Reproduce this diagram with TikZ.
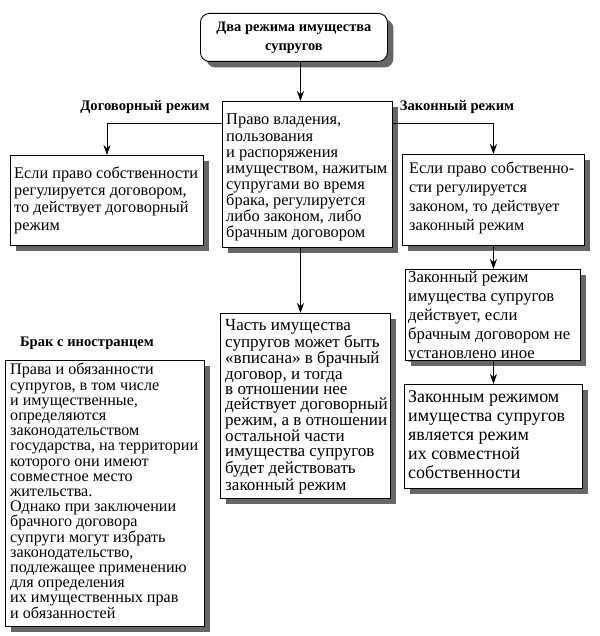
\documentclass[tikz,border=0pt]{standalone}
\usepackage{fontspec}
\setmainfont{Liberation Serif}
\usetikzlibrary{shadows,arrows.meta}
\newlength\fitw
% #1 macro receiving the font size, #2 target width (pt), #3 font switch, #4 sample line
\newcommand\fitsize[4]{%
  \settowidth\fitw{#3\fontsize{10}{10}\selectfont #4}%
  \pgfmathsetmacro#1{10*#2/\fitw}}
\begin{document}
\fitsize\fsTitle{155}{\bfseries}{Два режима имущества}%
\fitsize\fsCenter{161}{}{имуществом, нажитым}%
\fitsize\fsLeft{184}{}{Если право собственности}%
\fitsize\fsRone{165}{}{Если право собственно-}%
\fitsize\fsRtwo{162}{}{брачным договором не}%
\fitsize\fsRthree{157}{}{имущества супругов}%
\fitsize\fsMid{162}{}{режим, а в отношении}%
\fitsize\fsBl{188}{}{государства, на территории}%
\begin{tikzpicture}[x=1pt,y=-1pt,
  shadowed/.style={drop shadow={shadow xshift=6pt,shadow yshift=-6pt,fill=black!60,opacity=1}},
  box/.style={draw,line width=0.9pt,fill=white,anchor=north west,inner sep=0pt,shadowed},
  txt/.style={anchor=base west,align=left,inner sep=0pt},
  lbl/.style={font=\bfseries\fontsize{14.6}{16}\selectfont},
  arr/.style={line width=0.9pt,-{Stealth[length=10pt,width=7pt]}}]
\useasboundingbox (0,0) rectangle (599,636);

% boxes
\node[box,rounded corners=9pt,align=center,inner sep=0pt,font=\bfseries\fontsize{\fsTitle}{19}\selectfont,
  minimum width=187pt,minimum height=48pt] (title) at (200,13)
  {Два режима имущества\\супругов};
\node[box,minimum width=170pt,minimum height=146pt] (center) at (222,101) {};
\node[box,minimum width=193pt,minimum height=90pt] (left) at (10,155) {};
\node[box,minimum width=182pt,minimum height=91pt] (r1) at (402,154) {};
\node[box,minimum width=175pt,minimum height=91pt] (r2) at (405,269) {};
\node[box,minimum width=178pt,minimum height=104pt] (r3) at (404,384) {};
\node[box,minimum width=170pt,minimum height=185pt] (mid) at (220,313) {};
\node[box,minimum width=199pt,minimum height=266pt] (bl) at (5,360) {};

% texts (anchored at the baseline of their last line)
\node[txt,font=\fontsize{\fsCenter}{16}\selectfont] (centerT) at (226,237)
  {Право владения,\\пользования\\и распоряжения\\имуществом, нажитым\\супругами во время\\брака, регулируется\\либо законом, либо\\брачным договором};
\node[txt,font=\fontsize{\fsLeft}{17.3}\selectfont] (leftT) at (14,230)
  {Если право собственности\\регулируется договором,\\то действует договорный\\режим};
\node[txt,font=\fontsize{\fsRone}{19}\selectfont] (r1T) at (409,230)
  {Если право собственно-\\сти регулируется\\законом, то действует\\законный режим};
\node[txt,font=\fontsize{\fsRtwo}{18.8}\selectfont] (r2T) at (408,358)
  {Законный режим\\имущества супругов\\действует, если\\брачным договором не\\установлено иное};
\node[txt,font=\fontsize{\fsRthree}{19}\selectfont] (r3T) at (408,478)
  {Законным режимом\\имущества супругов\\является режим\\их совместной\\собственности};
\node[txt,font=\fontsize{\fsMid}{15.3}\selectfont] (midT) at (225,490)
  {Часть имущества\\супругов может быть\\«вписана» в брачный\\договор, и тогда\\в отношении нее\\действует договорный\\режим, а в отношении\\остальной части\\имущества супругов\\будет действовать\\законный режим};
\node[txt,font=\fontsize{\fsBl}{15.2}\selectfont] (blT) at (10,618)
  {Права и обязанности\\супругов, в том числе\\и имущественные,\\определяются\\законодательством\\государства, на территории\\которого они имеют\\совместное место\\жительства.\\Однако при заключении\\брачного договора\\супруги могут избрать\\законодательство,\\подлежащее применению\\для определения\\их имущественных прав\\и обязанностей};

% labels
\node[lbl] (ldog) at (145,107) {Договорный режим};
\node[lbl] (lzak) at (457,107) {Законный режим};
\node[lbl] (lbrak) at (87,343) {Брак с иностранцем};

% connectors
\draw[arr] ([xshift=6.5pt]title.south) -- ([xshift=-7pt]center.north);
\draw[arr] ([yshift=-22pt]center.north west) -| (left.north);
\draw[arr] ([yshift=-22pt]center.north east) -| (r1.north);
\draw[arr] (r1.south) -- (r2.north -| r1.south);
\draw[arr] (r2.south -| r1.south) -- (r3.north -| r1.south);
\draw[arr] ([xshift=-7pt]center.south) -- ([xshift=-5pt]mid.north);
\end{tikzpicture}
\end{document}
